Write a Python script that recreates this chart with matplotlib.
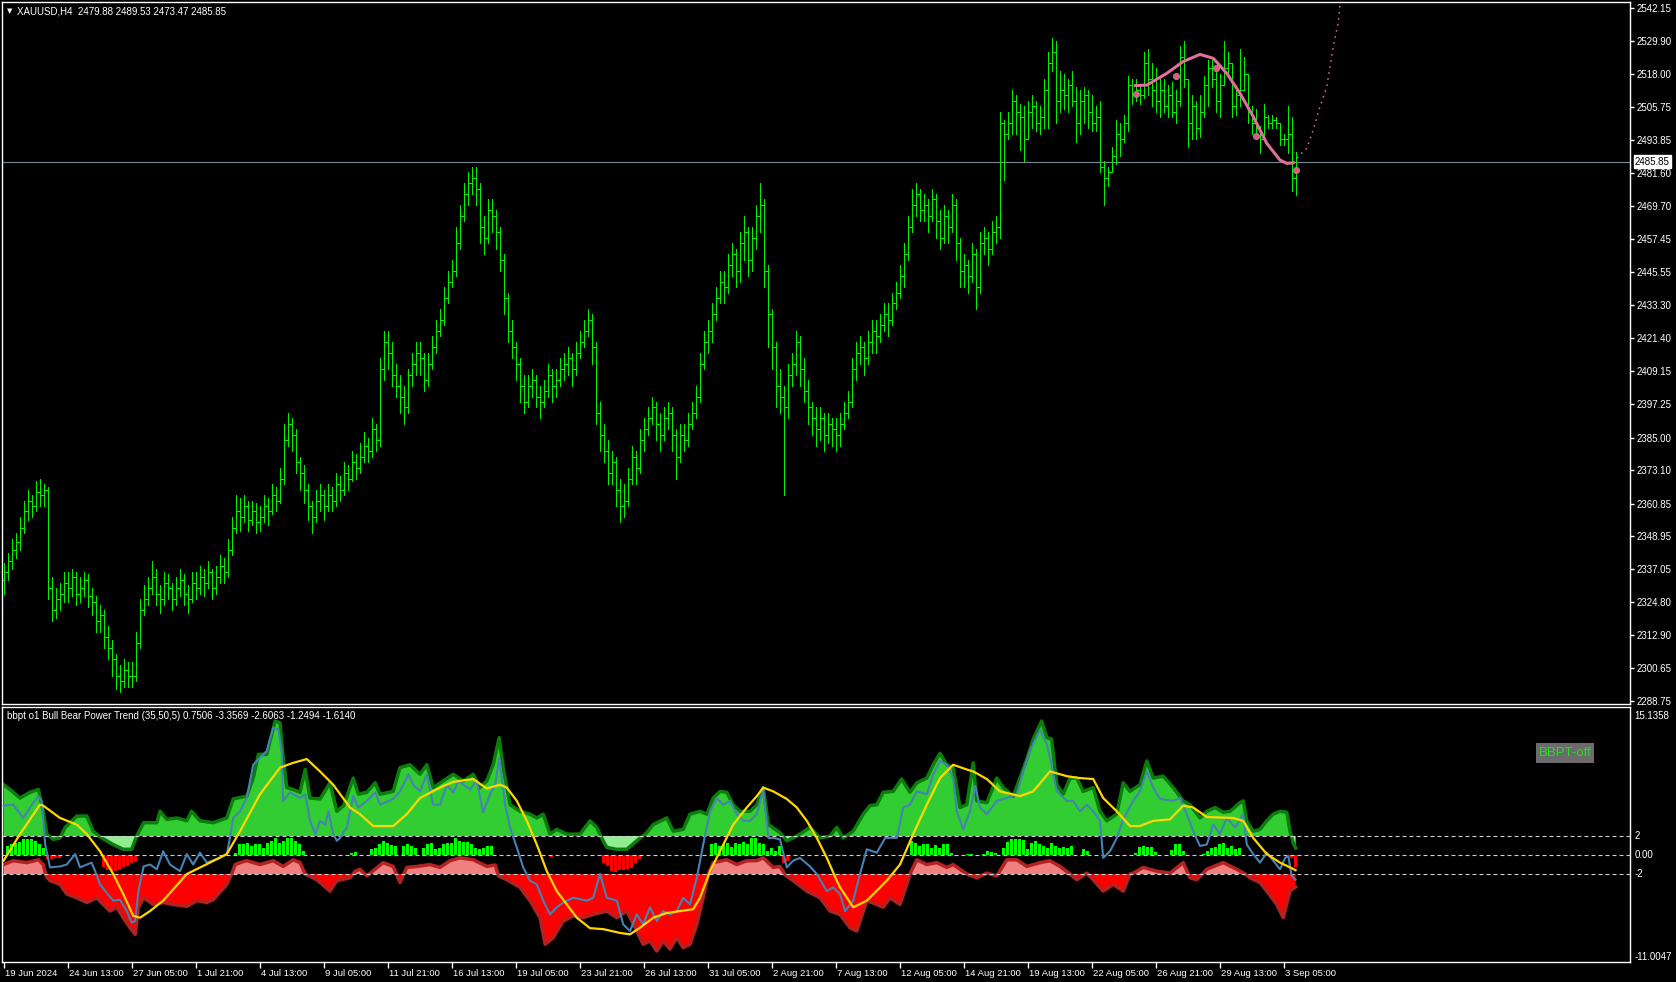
import matplotlib
matplotlib.use("Agg")
import matplotlib.pyplot as plt
import matplotlib.transforms as mtransforms
from matplotlib.collections import LineCollection
from matplotlib.patches import Rectangle
import numpy as np

W, H = 1676, 982

# ---- XAUUSD H4 bars (one row = 16 bars) ----
first_open = 2333.0
closes = [
    2336, 2340, 2344, 2347, 2352, 2358, 2362, 2360, 2365, 2364, 2366, 2330, 2322, 2326, 2328, 2332,
    2330, 2334, 2328, 2330, 2333, 2327, 2325, 2318, 2320, 2312, 2308, 2304, 2298, 2296, 2300, 2298,
    2298, 2310, 2322, 2326, 2330, 2334, 2328, 2326, 2332, 2330, 2326, 2330, 2333, 2328, 2326, 2332,
    2330, 2334, 2332, 2336, 2330, 2334, 2338, 2336, 2344, 2352, 2358, 2356, 2360, 2355, 2358, 2354,
    2356, 2360, 2358, 2364, 2362, 2370, 2384, 2390, 2386, 2376, 2372, 2366, 2360, 2356, 2362, 2364,
    2360, 2364, 2362, 2368, 2366, 2372, 2370, 2376, 2374, 2378, 2382, 2380, 2388, 2384, 2410, 2420,
    2416, 2408, 2404, 2400, 2396, 2408, 2412, 2416, 2414, 2406, 2412, 2418, 2424, 2428, 2436, 2442,
    2446, 2456, 2466, 2474, 2478, 2480, 2476, 2462, 2458, 2468, 2466, 2460, 2450, 2436, 2424, 2418,
    2412, 2404, 2398, 2404, 2406, 2400, 2398, 2402, 2408, 2404, 2406, 2410, 2412, 2414, 2410, 2416,
    2420, 2424, 2428, 2418, 2394, 2386, 2380, 2372, 2376, 2366, 2360, 2362, 2370, 2378, 2374, 2384,
    2388, 2392, 2396, 2390, 2386, 2392, 2394, 2386, 2378, 2386, 2384, 2390, 2394, 2400, 2412, 2420,
    2424, 2430, 2436, 2442, 2440, 2448, 2452, 2446, 2456, 2460, 2450, 2458, 2466, 2470, 2446, 2430,
    2418, 2404, 2400, 2396, 2408, 2412, 2420, 2410, 2402, 2396, 2392, 2388, 2392, 2386, 2390, 2388,
    2386, 2390, 2394, 2398, 2410, 2416, 2418, 2414, 2420, 2424, 2422, 2426, 2430, 2428, 2434, 2438,
    2444, 2452, 2462, 2470, 2474, 2468, 2470, 2466, 2472, 2464, 2458, 2466, 2462, 2470, 2456, 2446,
    2448, 2444, 2452, 2440, 2456, 2458, 2454, 2460, 2462, 2500, 2496, 2500, 2508, 2504, 2502, 2494,
    2504, 2506, 2500, 2502, 2512, 2522, 2526, 2508, 2512, 2510, 2514, 2508, 2500, 2508, 2510, 2504,
    2500, 2502, 2484, 2480, 2482, 2488, 2496, 2494, 2500, 2514, 2510, 2512, 2510, 2522, 2516, 2512,
    2508, 2512, 2506, 2510, 2504, 2508, 2524, 2516, 2500, 2506, 2498, 2504, 2514, 2520, 2516, 2508,
    2514, 2520, 2522, 2506, 2510, 2512, 2518, 2504, 2500, 2498, 2494, 2502, 2500, 2501, 2500, 2494,
    2494, 2496, 2479.88, 2485.85,
]
highs = [
    2339, 2343, 2348, 2350, 2356, 2362, 2366, 2364, 2369, 2370, 2368, 2367, 2334, 2330, 2332, 2336,
    2336, 2337, 2336, 2334, 2336, 2335, 2330, 2327, 2324, 2322, 2316, 2311, 2306, 2302, 2304, 2303,
    2303, 2314, 2326, 2331, 2334, 2340, 2337, 2331, 2336, 2335, 2332, 2334, 2337, 2335, 2331, 2336,
    2336, 2338, 2337, 2340, 2337, 2338, 2342, 2341, 2348, 2356, 2364, 2363, 2364, 2362, 2362, 2361,
    2360, 2364, 2363, 2368, 2367, 2374, 2390, 2394, 2392, 2388, 2378, 2375, 2368, 2362, 2366, 2368,
    2366, 2368, 2367, 2372, 2371, 2376, 2375, 2380, 2379, 2383, 2387, 2385, 2392, 2390, 2414, 2424,
    2424, 2420, 2412, 2408, 2404, 2410, 2416, 2420, 2420, 2416, 2416, 2422, 2428, 2432, 2440, 2446,
    2450, 2462, 2470, 2478, 2482, 2484, 2484, 2478, 2466, 2472, 2472, 2468, 2462, 2452, 2438, 2428,
    2420, 2414, 2408, 2408, 2410, 2408, 2404, 2406, 2412, 2410, 2410, 2414, 2416, 2418, 2416, 2420,
    2424, 2428, 2432, 2430, 2420, 2398, 2390, 2384, 2380, 2378, 2370, 2368, 2374, 2382, 2380, 2388,
    2392, 2396, 2400, 2398, 2394, 2396, 2398, 2396, 2388, 2390, 2390, 2394, 2398, 2404, 2416, 2424,
    2428, 2434, 2440, 2446, 2446, 2452, 2456, 2454, 2460, 2466, 2462, 2462, 2470, 2478, 2472, 2448,
    2432, 2420, 2410, 2404, 2412, 2416, 2424, 2422, 2414, 2406, 2398, 2396, 2396, 2394, 2394, 2392,
    2392, 2394, 2398, 2402, 2414, 2420, 2422, 2420, 2424, 2428, 2428, 2430, 2434, 2434, 2438, 2442,
    2448, 2456, 2466, 2476, 2478, 2476, 2474, 2472, 2476, 2474, 2468, 2470, 2468, 2474, 2472, 2458,
    2452, 2450, 2456, 2454, 2460, 2462, 2460, 2464, 2466, 2504, 2501, 2504, 2512, 2510, 2507, 2506,
    2508, 2510, 2508, 2506, 2516, 2526, 2531, 2530, 2519, 2518, 2516, 2519, 2513, 2512, 2513, 2512,
    2510, 2506, 2508, 2486, 2484, 2491, 2501, 2500, 2503, 2517, 2516, 2516, 2514, 2526, 2527, 2522,
    2520, 2517, 2516, 2514, 2515, 2512, 2528, 2530, 2516, 2510, 2508, 2510, 2517, 2523, 2523, 2520,
    2518, 2530, 2526, 2516, 2514, 2527, 2524, 2518, 2506, 2505, 2499, 2507, 2503, 2503, 2502, 2499,
    2496, 2506, 2502, 2489.53,
]
lows = [
    2328, 2333, 2337, 2341, 2344, 2350, 2355, 2356, 2358, 2360, 2360, 2326, 2318, 2319, 2322, 2325,
    2325, 2327, 2324, 2325, 2327, 2323, 2320, 2314, 2314, 2308, 2304, 2298, 2293, 2292, 2294, 2294,
    2294, 2296, 2308, 2320, 2324, 2328, 2324, 2321, 2324, 2326, 2322, 2324, 2327, 2324, 2321, 2325,
    2326, 2328, 2327, 2330, 2326, 2328, 2332, 2332, 2334, 2342, 2350, 2351, 2354, 2351, 2353, 2350,
    2351, 2354, 2353, 2357, 2358, 2361, 2368, 2382, 2380, 2372, 2366, 2361, 2355, 2350, 2354, 2358,
    2355, 2358, 2358, 2360, 2362, 2364, 2366, 2369, 2370, 2372, 2376, 2376, 2378, 2380, 2382, 2406,
    2410, 2404, 2400, 2394, 2390, 2394, 2404, 2408, 2408, 2402, 2404, 2410, 2416, 2422, 2426, 2434,
    2440, 2444, 2454, 2464, 2470, 2474, 2470, 2456, 2452, 2456, 2460, 2454, 2446, 2430, 2420, 2414,
    2406, 2398, 2394, 2396, 2400, 2396, 2392, 2396, 2400, 2398, 2400, 2404, 2406, 2408, 2404, 2408,
    2414, 2418, 2422, 2412, 2390, 2380, 2376, 2368, 2368, 2360, 2354, 2356, 2360, 2368, 2368, 2372,
    2380, 2386, 2390, 2384, 2380, 2384, 2388, 2380, 2370, 2376, 2380, 2382, 2388, 2392, 2398, 2410,
    2416, 2420, 2428, 2434, 2434, 2438, 2444, 2440, 2442, 2450, 2444, 2446, 2454, 2460, 2440, 2418,
    2410, 2396, 2394, 2364, 2392, 2404, 2408, 2404, 2398, 2390, 2386, 2382, 2384, 2380, 2383, 2382,
    2380, 2382, 2388, 2392, 2396, 2406, 2412, 2408, 2412, 2416, 2416, 2420, 2424, 2422, 2426, 2432,
    2436, 2440, 2450, 2460, 2466, 2464, 2464, 2460, 2464, 2458, 2454, 2456, 2456, 2460, 2450, 2440,
    2440, 2438, 2442, 2432, 2438, 2452, 2448, 2452, 2456, 2458, 2479, 2494, 2496, 2496, 2490, 2486,
    2496, 2498, 2497, 2496, 2498, 2498, 2519, 2500, 2504, 2505, 2504, 2506, 2493, 2496, 2500, 2498,
    2497, 2497, 2482, 2470, 2477, 2482, 2485, 2488, 2493, 2497, 2507, 2508, 2507, 2509, 2510, 2506,
    2504, 2502, 2504, 2502, 2502, 2500, 2506, 2513, 2491, 2494, 2494, 2495, 2502, 2506, 2513, 2504,
    2502, 2514, 2518, 2502, 2503, 2506, 2514, 2500, 2496, 2496, 2489, 2496, 2498, 2498, 2498, 2492,
    2492, 2489, 2475, 2473.47,
]
last_price = 2485.85

price_ticks = [2542.15, 2529.90, 2518.00, 2505.75, 2493.85, 2481.60, 2469.70, 2457.45,
               2445.55, 2433.30, 2421.40, 2409.15, 2397.25, 2385.00, 2373.10, 2360.85,
               2348.95, 2337.05, 2324.80, 2312.90, 2300.65, 2288.75]
date_labels = ["19 Jun 2024", "24 Jun 13:00", "27 Jun 05:00", "1 Jul 21:00", "4 Jul 13:00",
               "9 Jul 05:00", "11 Jul 21:00", "16 Jul 13:00", "19 Jul 05:00", "23 Jul 21:00",
               "26 Jul 13:00", "31 Jul 05:00", "2 Aug 21:00", "7 Aug 13:00", "12 Aug 05:00",
               "14 Aug 21:00", "19 Aug 13:00", "22 Aug 05:00", "26 Aug 21:00", "29 Aug 13:00",
               "3 Sep 05:00"]
bars_per_label = 16

# regression curve on price chart
curve_x = [282.9, 285.8, 290.8, 294.9, 299.1, 302.4, 305.8, 309.1, 312.4, 315.8, 319.1, 320.8, 322.4]
curve_y = [2513.6, 2513.8, 2518.1, 2522.4, 2525.0, 2523.6, 2518.1, 2510.8, 2502.3, 2492.5, 2486.4, 2485.2, 2485.4]
proj_x = [322.4, 324.1, 325.8, 327.4, 329.1, 330.8, 332.4, 333.7, 334.2]
proj_y = [2485.4, 2488.3, 2490.7, 2497.4, 2505.9, 2513.2, 2527.8, 2537.0, 2545.0]
dot_x = [283, 293, 303, 313, 323]
dot_y = [2510.5, 2517.0, 2519.9, 2495.1, 2482.7]

# ---- Bull Bear Power Trend ----
bull_x = [0, 1.6, 4.1, 6.6, 8.7, 9.9, 10.8, 12.4, 14.1, 15.4, 18.3, 20.8, 22.4, 24.1, 27.4, 29.9, 32.0,
          33.3, 35.0, 38.3, 39.1, 40.8, 43.3, 45.8, 47.0, 49.1, 52.4, 55.8, 57.4, 60.8, 62.4, 63.7,
          65.8, 66.6, 67.9, 69.1, 69.9, 70.8, 72.4, 74.1, 75.4, 76.6, 79.1, 81.6, 83.3, 85.0, 87.4,
          88.7, 90.8, 92.9, 94.1, 97.4, 99.1, 101.6, 104.1, 105.8, 107.4, 109.9, 112.4, 114.9, 117.4,
          119.1, 120.8, 122.4, 123.9, 124.9, 126.6, 129.1, 131.6, 133.3, 134.9, 136.6, 138.3, 140.8,
          144.1, 146.6, 148.3, 149.5, 150.8, 153.3, 155.8, 158.3, 160.8, 162.4, 165.8, 167.4, 169.9,
          171.6, 174.1, 175.8, 177.4, 179.1, 180.8, 182.4, 184.1, 186.6, 188.3, 189.9, 191.2, 194.1,
          195.8, 198.3, 201.6, 204.1, 206.6, 208.3, 209.1, 209.9, 212.4, 214.9, 216.6, 218.3, 219.9,
          222.4, 224.5, 226.6, 228.3, 230.8, 232.4, 234.1, 235.8, 237.4, 239.1, 240.8, 242.4, 243.3,
          245.8, 248.3, 249.9, 252.4, 254.1, 255.8, 257.4, 259.5, 260.8, 262.0, 263.3, 264.9, 266.6,
          268.3, 269.9, 272.4, 274.1, 275.8, 278.3, 279.9, 281.6, 284.1, 285.8, 287.4, 289.9, 292.4,
          294.9, 296.6, 299.1, 300.8, 302.9, 304.9, 306.6, 309.1, 309.9, 310.8, 312.4, 314.1, 315.8,
          317.4, 319.1, 320.8, 321.6, 322.4, 323.0]
bull_v = [7.4, 6.9, 6.0, 6.6, 6.9, 4.6, 2.2, 1.65, 1.8, 2.9, 4.1, 4.1, 2.5, 1.9, 1.1, 0.6, 0.6,
          2.0, 3.4, 3.4, 4.6, 3.75, 3.9, 3.6, 4.6, 3.6, 3.4, 3.9, 5.9, 6.2, 8.1, 10.6,
          10.6, 12.0, 14.1, 13.9, 10.25, 7.1, 6.9, 6.6, 9.0, 6.0, 5.9, 7.6, 4.6, 5.2, 8.1,
          6.4, 6.6, 7.6, 6.4, 6.7, 9.2, 9.5, 8.5, 9.5, 7.1, 7.8, 8.5, 7.8, 8.5,
          7.1, 7.8, 9.5, 12.35, 9.2, 5.3, 4.6, 4.3, 3.9, 4.3, 2.2, 2.7, 2.2,
          2.2, 3.6, 2.9, 1.8, 0.8, 0.6, 0.6, 1.5, 2.35, 3.2, 3.9, 2.5, 2.7,
          4.3, 4.6, 4.3, 6.0, 6.7, 6.6, 5.3, 4.6, 4.6, 5.3, 7.1, 3.2, 2.35,
          1.5, 2.0, 2.9, 1.8, 2.0, 2.9, 2.35, 1.8, 2.5, 4.3, 5.2, 5.3, 6.6,
          6.7, 8.0, 6.6, 7.6, 8.1, 9.5, 10.7, 9.5, 9.2, 5.0, 5.3, 9.7, 5.7,
          5.5, 8.1, 7.1, 6.2, 8.1, 10.1, 12.2, 14.1, 12.35, 12.2, 7.4, 6.4, 8.1,
          8.1, 6.7, 7.1, 4.6, 3.6, 4.3, 7.6, 6.7, 7.4, 9.9, 8.1, 8.3, 7.1,
          5.7, 5.3, 3.9, 4.6, 5.0, 4.5, 4.6, 5.5, 5.7, 3.6, 2.5, 2.7, 3.6,
          4.3, 4.6, 4.5, 2.5, 1.3, 0.75]

bear_x = [0, 2.4, 5.8, 8.7, 9.9, 10.6, 11.6, 14.1, 15.8, 18.3, 20.8, 23.3, 24.9, 26.6, 28.3, 29.9,
          31.6, 32.9, 33.7, 35.0, 37.4, 39.9, 42.4, 45.8, 48.3, 50.8, 52.4, 55.8, 57.0, 57.9, 59.1,
          60.8, 64.1, 67.4, 69.9, 72.4, 74.1, 75.4, 78.3, 81.6, 83.3, 86.6, 87.9, 89.1, 90.8, 94.9,
          97.4, 99.1, 100.8, 103.3, 106.6, 109.1, 111.6, 114.1, 117.4, 120.8, 122.9, 123.7, 125.8,
          129.1, 131.6, 134.1, 135.4, 137.4, 139.9, 142.4, 144.9, 147.4, 150.8, 153.3, 155.8, 158.3,
          159.9, 161.6, 163.3, 164.9, 166.6, 168.3, 169.9, 171.6, 173.3, 174.9, 176.2, 177.4, 180.8,
          183.3, 185.8, 188.3, 189.9, 192.4, 194.1, 195.4, 197.4, 200.8, 204.1, 206.6, 209.1, 211.6,
          213.3, 215.8, 218.3, 219.9, 221.6, 224.1, 225.8, 226.6, 228.3, 230.8, 233.3, 235.8, 237.4,
          240.8, 243.3, 245.8, 248.3, 250.8, 253.3, 255.8, 259.1, 261.6, 264.1, 266.6, 268.3, 270.8,
          272.4, 274.9, 277.4, 279.9, 281.6, 282.4, 284.9, 288.3, 291.6, 294.9, 296.6, 298.3, 300.8,
          304.9, 308.3, 310.4, 311.6, 314.1, 315.8, 318.3, 319.9, 321.6, 323.0]
bear_v = [-1.0, -0.6, -0.8, -0.5, -1.0, -2.2, -2.7, -3.1, -4.1, -4.5, -5.0, -4.5, -5.2, -5.9, -5.5, -6.6,
          -7.65, -8.35, -5.5, -4.5, -5.2, -5.0, -5.2, -5.4, -4.8, -5.0, -4.7, -3.1, -2.0, -1.0, -0.8,
          -0.6, -1.0, -0.6, -1.2, -0.5, -0.8, -2.0, -2.6, -3.8, -2.7, -2.4, -1.7, -1.5, -2.2, -0.8,
          -1.2, -2.9, -1.3, -1.2, -1.0, -1.3, -0.6, -0.3, -0.5, -1.2, -1.05, -2.2, -2.6,
          -3.4, -4.8, -6.6, -9.4, -8.7, -6.95, -6.4, -6.6, -6.25, -5.9, -6.6, -5.9, -8.0,
          -9.4, -9.05, -10.1, -9.05, -9.9, -8.7, -9.75, -9.4, -7.3, -4.5, -2.0, -0.8, -0.5,
          -1.0, -0.6, -0.6, -0.3, -1.3, -1.2, -2.1, -2.7, -3.8, -4.5, -5.9, -6.25, -7.65,
          -8.0, -4.8, -5.2, -5.5, -4.5, -5.2, -3.1, -2.0, -0.5, -1.0, -0.8, -1.3, -1.0,
          -2.0, -2.4, -1.9, -2.2, -0.5, -0.5, -1.2, -0.8, -0.6, -1.2, -2.0, -2.6, -1.9,
          -2.6, -3.8, -3.1, -3.8, -2.0, -1.9, -1.3, -1.7, -1.9, -0.8, -2.4, -2.6, -1.5,
          -0.8, -1.5, -2.0, -2.4, -2.9, -3.8, -5.2, -6.6, -3.8, -3.36]

blue_x = [0, 2.4, 4.9, 7.4, 8.7, 9.5, 10.4, 11.6, 14.1, 15.8, 17.9, 19.1, 20.8, 22.0, 22.9, 24.1, 25.8,
          27.4, 29.1, 30.8, 32.0, 32.9, 33.7, 35.0, 36.6, 38.3, 39.9, 41.6, 44.1, 45.8, 47.4, 49.1,
          50.8, 54.1, 55.8, 56.6, 57.4, 59.1, 60.8, 62.4, 64.1, 65.8, 67.4, 68.7, 69.5, 69.9, 71.6,
          74.1, 75.4, 76.6, 77.9, 79.1, 80.4, 81.2, 82.4, 83.3, 84.1, 85.8, 87.4, 88.7, 90.8, 92.9,
          94.1, 97.4, 99.1, 101.2, 102.4, 104.1, 105.8, 107.4, 109.1, 110.8, 112.4, 113.7, 116.6,
          118.3, 119.9, 121.6, 122.9, 123.9, 125.4, 126.6, 128.3, 129.9, 131.6, 133.3, 134.9, 136.6,
          138.3, 139.9, 142.4, 145.8, 147.4, 149.1, 150.8, 153.3, 154.9, 156.6, 158.3, 159.9, 161.6,
          163.3, 164.9, 166.6, 168.3, 169.9, 171.6, 173.3, 174.9, 176.6, 178.3, 179.9, 181.6, 183.3,
          184.9, 186.6, 188.3, 189.9, 191.2, 192.4, 194.1, 195.8, 197.4, 199.1, 201.6, 203.3, 205.8,
          207.4, 209.1, 210.4, 212.4, 214.1, 215.8, 218.3, 220.4, 223.3, 224.9, 226.6, 228.3, 230.8,
          232.4, 234.1, 235.8, 237.4, 238.3, 239.9, 241.6, 242.9, 244.1, 245.8, 248.3, 250.8, 253.3,
          254.9, 256.6, 259.1, 260.8, 261.6, 263.3, 265.8, 267.4, 269.1, 270.8, 272.4, 274.1, 274.9,
          276.6, 278.3, 279.9, 282.4, 284.1, 285.8, 287.4, 289.1, 292.4, 294.1, 295.8, 297.4, 299.1,
          300.8, 302.4, 304.1, 305.8, 307.9, 309.9, 310.8, 312.4, 314.1, 315.8, 317.4, 319.1, 320.4,
          321.2, 322.0, 323.0]
blue_v = [5.2, 5.3, 3.9, 5.5, 6.2, 5.7, 1.1, -1.3, -1.2, -1.0, 0.1, -1.3, -1.0, -0.8, -1.7, -3.1, -4.0,
          -4.8, -4.7, -5.9, -7.1, -6.95, -3.8, -1.2, -1.0, -1.5, 0.4, -1.0, -1.7, 0.1, -1.0, 0.25,
          -0.8, -0.3, 0.1, 1.8, 3.9, 4.6, 6.0, 9.5, 10.25, 10.95, 13.4, 13.2, 10.95, 5.7, 6.6,
          6.0, 6.4, 3.6, 2.2, 3.6, 3.2, 4.6, 2.2, 1.5, 1.8, 2.9, 6.2, 5.0, 5.7, 6.6,
          5.3, 5.9, 6.7, 8.5, 7.4, 6.7, 8.5, 5.3, 5.3, 7.4, 6.6, 7.8, 6.9,
          7.8, 4.5, 6.4, 7.4, 10.25, 5.3, 2.9, 0.8, -1.3, -2.7, -3.1, -4.8, -6.25,
          -5.5, -5.0, -4.5, -4.8, -4.5, -2.0, -4.5, -4.8, -7.3, -8.0, -6.25, -7.3, -5.5,
          -6.95, -5.9, -6.25, -5.9, -4.5, -5.2, -2.4, 1.1, 4.6, 6.0, 5.3, 5.7, 4.3,
          3.6, 3.6, 4.3, 6.9, 1.8, 1.8, 1.65, -1.3, -0.6, -0.3, -1.2, -2.0, -3.8,
          -3.4, -4.1, -5.9, -4.8, -2.0, 0.6, 0.25, 1.8, 1.8, 5.0, 5.3, 6.7, 6.4,
          8.5, 9.9, 9.5, 8.1, 4.6, 2.7, 4.6, 7.3, 5.0, 4.3, 5.7, 6.0, 6.4,
          8.8, 10.95, 13.2, 11.65, 10.25, 6.7, 5.7, 5.7, 4.6, 5.3, 4.6, 3.6, -0.3,
          0.4, 1.8, 3.75, 5.7, 6.7, 8.8, 7.1, 5.9, 5.7, 6.0, 4.3, 2.5, 0.95,
          1.1, 3.2, 2.2, 3.9, 2.9, 4.3, 1.1, 0.1, -0.8, 0.25, -0.6, -1.5, -0.3,
          -0.1, -2.2, -2.6]

signal_x = [0, 4.1, 9.1, 9.9, 14.1, 18.3, 20.8, 24.1, 27.4, 29.9, 32.4, 34.1, 36.6, 39.9, 45.8, 51.6,
            55.8, 59.1, 64.1, 69.1, 72.4, 75.8, 79.1, 82.4, 86.6, 89.1, 92.4, 97.4, 100.8, 104.1,
            109.1, 112.4, 117.4, 120.8, 124.1, 125.8, 128.3, 130.8, 133.3, 135.8, 138.3, 140.8, 143.3,
            146.6, 149.9, 154.1, 156.6, 159.1, 162.4, 165.8, 170.8, 172.4, 174.1, 176.6, 179.1, 182.4,
            185.8, 188.3, 189.9, 192.4, 195.8, 198.3, 200.8, 203.3, 205.8, 208.3, 209.1, 212.4, 215.8,
            220.8, 224.1, 227.4, 230.8, 234.1, 237.4, 240.8, 242.4, 245.8, 249.1, 254.1, 257.4, 261.6,
            265.8, 269.1, 272.4, 274.9, 278.3, 281.6, 284.1, 287.4, 291.6, 294.9, 297.4, 300.8, 307.4,
            309.9, 312.4, 315.8, 319.1, 321.6, 323.0]
signal_v = [-0.6, 2.2, 5.3, 5.2, 3.9, 3.2, 2.2, 0.4, -2.0, -4.1, -6.4, -6.6, -5.9, -4.8, -2.0, -0.8,
            0.1, 2.5, 6.4, 9.2, 9.7, 10.1, 8.8, 7.4, 5.0, 4.3, 3.05, 3.05, 4.3, 6.0,
            7.1, 7.7, 8.0, 7.0, 7.4, 7.1, 5.7, 3.6, 1.1, -1.7, -3.8, -5.2, -6.6,
            -7.7, -7.8, -8.2, -8.35, -7.65, -6.6, -6.1, -5.8, -5.7, -4.5, -1.7, 0.4, 3.2,
            5.0, 6.2, 7.1, 6.7, 5.9, 5.0, 3.6, 1.8, -0.3, -2.7, -3.4, -5.5, -4.8,
            -2.7, -1.0, 2.2, 5.3, 8.1, 9.5, 9.0, 8.8, 8.0, 6.7, 6.2, 6.7, 8.8,
            8.3, 8.1, 8.0, 6.0, 4.6, 3.05, 3.05, 3.6, 3.75, 5.2, 5.0, 4.0, 3.9,
            3.6, 1.8, 0.1, -0.8, -1.3, -1.6]

# histogram runs: (first bar, heights)
hist_runs = [
    (1, [0.95, 1.19, 1.3, 1.4, 1.65, 1.65, 1.65, 1.47, 1.12, 0.77]),
    (11, [-0.4, -0.4, -0.3, -0.3]),
    (25, [-1.3, -1.6, -1.7, -1.7, -1.6, -1.3, -1.16, -0.8, -0.74]),
    (58, [0.25, 1.12, 1.19, 1.3, 0.95, 1.12, 1.12, 0.77, 1.3, 1.47, 1.82, 1.3, 1.47, 1.82, 1.75,
          1.47, 1.12, 0.42]),
    (87, [0.2, 0.3]),
    (92, [0.6, 0.77, 1.19, 1.47, 1.3, 1.05, 0.95]),
    (100, [0.95, 1.19, 0.95, 0.77]),
    (105, [0.77, 1.12, 1.3, 0.6, 0.77, 1.12, 1.3, 1.3, 1.82, 1.47, 1.4, 1.4, 1.19, 0.77, 0.6,
           0.77, 0.95, 0.95]),
    (137, [-0.2]),
    (141, [-0.05]),
    (150, [-0.81, -1.16, -1.68, -1.75, -1.61, -1.61, -1.51, -1.33, -0.81, -0.46]),
    (177, [1.19, 1.3, 0.95, 1.12, 1.3, 0.84, 1.3, 1.19, 1.4, 1.12, 1.75, 1.82, 1.3, 1.12, 0.42,
           0.77, 0.42, 0.95]),
    (195, [-0.8, -0.6]),
    (209, [-0.15, -0.1]),
    (227, [1.47, 1.3, 0.95, 1.12, 1.19, 0.77, 1.05, 0.7, 1.12, 1.12, 0.25]),
    (241, [0.15, 0.1]),
    (245, [0.1, 0.4, 0.35, 0.2]),
    (250, [0.77, 1.4, 1.65, 1.65, 1.65, 1.54, 0.6, 1.3, 1.47, 1.19, 0.95, 0.7, 1.3, 0.95, 0.77,
           0.84, 0.7, 0.95]),
    (270, [0.6, 0.42]),
    (282, [0.05, 0.2, 0.84, 0.95, 0.84, 0.84, 0.3]),
    (292, [0.5, 1.12, 1.19, 0.42]),
    (300, [0.07, 0.42, 0.77, 0.84, 1.19, 1.3, 0.77, 0.95, 0.6, 0.77]),
    (322, [-0.3, -1.25]),
]
levels = [2, 0, -2]
ind_labels = [(15.1358, "15.1358"), (2, "2"), (0, "0.00"), (-2, "-2"), (-11.0047, "-11.0047")]
ind_title = "bbpt o1 Bull Bear Power Trend (35,50,5) 0.7506 -3.3569 -2.6063 -1.2494 -1.6140"
header = "XAUUSD,H4  2479.88 2489.53 2473.47 2485.85"


def rect(x0, y0, x1, y1):
    return [x0 / W, 1 - y1 / H, (x1 - x0) / W, (y1 - y0) / H]


plt.rcParams["font.family"] = ["Liberation Sans", "DejaVu Sans"]
fig = plt.figure(figsize=(W / 100, H / 100), dpi=100, facecolor="black")
ax = fig.add_axes(rect(2, 2, 1630, 704))
ax2 = fig.add_axes(rect(2, 707, 1630, 962))

for a in (ax, ax2):
    a.set_facecolor("black")
    for s in a.spines.values():
        s.set_color("white")
        s.set_linewidth(1)
    a.set_xlim(-0.4, 406.6)

# price panel
ax.set_ylim(2287.65, 2544.16)
opens = [first_open] + closes[:-1]
segs = []
for i in range(len(closes)):
    lo = min(lows[i], opens[i], closes[i])
    hi = max(highs[i], opens[i], closes[i])
    segs.append([(i, lo), (i, hi)])
    segs.append([(i - 0.35, opens[i]), (i, opens[i])])
    segs.append([(i, closes[i]), (i + 0.35, closes[i])])
ax.add_collection(LineCollection(segs, colors="#00f000", linewidths=0.72, antialiaseds=False))

ax.axhline(last_price, color="#778899", lw=0.8, zorder=1)
ax.plot(curve_x, curve_y, color="#e0709b", lw=2.2, zorder=3)
ax.plot(proj_x, proj_y, color="#e0709b", lw=1.1, ls=(0, (1, 3)), zorder=3)
ax.plot(dot_x, dot_y, ls="none", marker="o", ms=4.5, mfc="#ec5570", mec="#8f86cc", mew=0.6, zorder=4)

ax.set_xticks([])
ax.yaxis.tick_right()
ax.set_yticks(price_ticks)
ax.set_yticklabels([f"{v:.2f}" for v in price_ticks])
ax.tick_params(axis="y", colors="white", labelcolor="white", labelsize=7, length=3, width=1,
               pad=2, direction="out")
ax.annotate(f"{last_price:.2f}", xy=(1, last_price), xycoords=ax.get_yaxis_transform(),
            xytext=(3.5, 0), textcoords="offset points", va="center", ha="left", fontsize=7,
            color="black", bbox=dict(boxstyle="square,pad=0.12", fc="white", ec="white"),
            annotation_clip=False)

# indicator panel
ax2.set_ylim(-11.26, 15.58)
bx, bv = np.array(bull_x), np.array(bull_v)
ax2.fill_between(bx, 2, bv, where=bv >= 2, interpolate=True, color="#32cd32", lw=0, zorder=1)
ax2.fill_between(bx, 2, bv, where=bv <= 2, interpolate=True, color="#90ee90", lw=0, zorder=1)
ax2.plot(bx, bv, color="#0b7d0b", lw=2.5, zorder=2)

rx, rv = np.array(bear_x), np.array(bear_v)
ax2.fill_between(rx, -2, rv, where=rv <= -2, interpolate=True, color="#ff0000", lw=0, zorder=1)
ax2.fill_between(rx, -2, rv, where=rv >= -2, interpolate=True, color="#f08080", lw=0, zorder=1)
ax2.plot(rx, rv, color="#b22222", lw=2.5, zorder=2)

for start, vals in hist_runs:
    xs = np.arange(start, start + len(vals))
    vals = np.array(vals)
    ax2.bar(xs, vals, width=0.72, color=np.where(vals >= 0, "#00ff00", "#ff0000"), lw=0, zorder=2)

for lv in levels:
    ax2.axhline(lv, color="#d0d0d0", lw=0.8, ls=(0, (3.6, 2.7)), zorder=3)

ax2.plot(blue_x, blue_v, color="#4682b4", lw=1.5, zorder=4)
ax2.plot(signal_x, signal_v, color="#ffd700", lw=1.6, zorder=5)

ax2.set_yticks([])
ytr = ax2.get_yaxis_transform()
for val, txt in ind_labels:
    va, dy = "center", 0
    if val > 10:
        va = "top"
    if val < -10:
        dy = 2
    ax2.annotate(txt, xy=(1, val), xycoords=ytr, xytext=(3, dy), textcoords="offset points",
                 va=va, ha="left", fontsize=7, color="white", annotation_clip=False)

ticks = list(range(0, bars_per_label * len(date_labels), bars_per_label))
ax2.set_xticks(ticks)
ax2.set_xticklabels(date_labels, ha="left")
ax2.tick_params(axis="x", colors="white", labelcolor="white", labelsize=6.8, length=4, width=1,
                pad=1, direction="out")
shift = mtransforms.ScaledTranslation(1 / 100, 0, fig.dpi_scale_trans)
for lbl in ax2.get_xticklabels():
    lbl.set_transform(lbl.get_transform() + shift)

# texts
fig.text(7 / W, 1 - 11 / H, "\u25bc", color="white", fontsize=5, va="center", ha="left",
         family=["DejaVu Sans"])
fig.text(17 / W, 1 - 11 / H, header, color="white", fontsize=7, va="center", ha="left")
fig.text(7 / W, 1 - 716 / H, ind_title, color="white", fontsize=7, va="center", ha="left")
fig.patches.append(Rectangle((1536 / W, 1 - 763 / H), 58 / W, 20 / H, transform=fig.transFigure,
                             facecolor="#6b6b6b", edgecolor="none"))
fig.text(1565 / W, 1 - 753 / H, "BBPT-off", color="#22e022", fontsize=9.5, va="center", ha="center")

fig.savefig("out.png", dpi=100, facecolor="black")
